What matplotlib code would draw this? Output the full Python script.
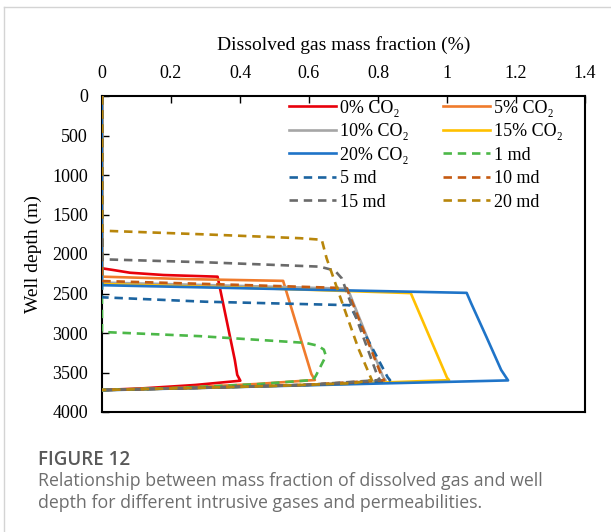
import matplotlib.pyplot as plt
from matplotlib.lines import Line2D

plt.rcParams['font.family'] = ['Liberation Serif', 'DejaVu Serif']

# series: dissolved gas mass fraction (%) vs well depth (m)
co2_0_x = [0, 0, 0.033, 0.081, 0.178, 0.335, 0.385, 0.392, 0.401, 0.27, 0.12, 0]
co2_0_d = [0, 2181, 2203, 2237, 2266, 2287, 3342, 3530, 3604, 3658, 3700, 3722]

co2_5_x = [0, 0, 0.25, 0.525, 0.607, 0.617, 0.45, 0.22, 0]
co2_5_d = [0, 2287, 2318, 2340, 3520, 3595, 3645, 3695, 3722]

co2_10_x = [0, 0, 0.35, 0.712, 0.815, 0.822, 0.6, 0.3, 0]
co2_10_d = [0, 2362, 2398, 2440, 3560, 3600, 3658, 3693, 3722]

co2_15_x = [0, 0, 0.45, 0.895, 1.0, 1.006, 0.7, 0.35, 0]
co2_15_d = [0, 2380, 2432, 2495, 3565, 3597, 3645, 3688, 3722]

co2_20_x = [0, 0, 0.5, 1.057, 1.07, 1.114, 1.157, 1.177, 0.8, 0.4, 0]
co2_20_d = [0, 2395, 2442, 2492, 2624, 3047, 3468, 3600, 3640, 3683, 3725]

md1_x = [0, 0, 0.284, 0.59, 0.625, 0.643, 0.649, 0.62, 0.612, 0.45, 0.22, 0]
md1_d = [0, 2987, 3040, 3125, 3160, 3210, 3290, 3540, 3595, 3648, 3695, 3722]

md5_x = [0, 0, 0.3, 0.718, 0.828, 0.835, 0.815, 0.6, 0.3, 0]
md5_d = [0, 2548, 2604, 2648, 3560, 3597, 3612, 3655, 3692, 3722]

md10_x = [0, 0, 0.35, 0.709, 0.812, 0.818, 0.6, 0.3, 0]
md10_d = [0, 2342, 2385, 2432, 3560, 3598, 3655, 3692, 3722]

md15_x = [0, 0, 0.3, 0.631, 0.675, 0.695, 0.8, 0.806, 0.6, 0.3, 0]
md15_d = [0, 2067, 2105, 2160, 2210, 2308, 3560, 3595, 3655, 3692, 3722]

md20_x = [0, 0, 0.3, 0.574, 0.637, 0.651, 0.69, 0.743, 0.782, 0.73, 0.5, 0.25, 0]
md20_d = [0, 1705, 1752, 1800, 1820, 2054, 2540, 3194, 3595, 3635, 3670, 3697, 3722]

labels = ["0% CO\u2082", "5% CO\u2082", "10% CO\u2082", "15% CO\u2082", "20% CO\u2082",
          "1 md", "5 md", "10 md", "15 md", "20 md"]
colors = ["#e8000b", "#f07b2c", "#a6a6a6", "#ffc000", "#1f74c8",
          "#4cb848", "#1c64a0", "#c55a11", "#6a6a6a", "#b8860b"]
xs = [co2_0_x, co2_5_x, co2_10_x, co2_15_x, co2_20_x, md1_x, md5_x, md10_x, md15_x, md20_x]
ds = [co2_0_d, co2_5_d, co2_10_d, co2_15_d, co2_20_d, md1_d, md5_d, md10_d, md15_d, md20_d]

fig = plt.figure(figsize=(6.11, 5.32), dpi=100)
ax = fig.add_axes([102 / 611, 1 - 412 / 532, 483 / 611, 316 / 532])

handles = []
for i in range(10):
    ls = "-" if i < 5 else "--"
    line, = ax.plot(xs[i], ds[i], color=colors[i], lw=1.9, ls=ls, zorder=3,
                    solid_joinstyle="round", label=labels[i])
    if i >= 5:
        line.set_dashes((3.2, 2.2))
    handles.append(line)

ax.set_xlim(0, 1.4)
ax.set_ylim(4000, 0)
ax.set_xticks([0, 0.2, 0.4, 0.6, 0.8, 1.0, 1.2, 1.4])
ax.set_xticklabels(["0", "0.2", "0.4", "0.6", "0.8", "1", "1.2", "1.4"])
ax.set_yticks(range(0, 4001, 500))
ax.xaxis.tick_top()
ax.tick_params(axis="both", direction="in", length=5, width=1, labelsize=13,
               pad=10, colors="black")
ax.tick_params(axis="x", top=True, bottom=False)
for s in ax.spines.values():
    s.set_linewidth(1.5)
    s.set_color("black")

ax.set_xlabel("Dissolved gas mass fraction (%)", fontsize=14)
ax.xaxis.set_label_position("top")
ax.xaxis.label.set_va("center")
ax.xaxis.set_label_coords(0.5, 1 + (96 - 45) / 316)
ax.set_ylabel("Well depth (m)", fontsize=14)
ax.yaxis.label.set_va("center")
ax.yaxis.set_label_coords((33 - 102) / 483, 0.5)

order = [0, 2, 4, 6, 8, 1, 3, 5, 7, 9]
ax.legend([handles[k] for k in order], [labels[k] for k in order], ncol=2,
          loc="upper left", bbox_to_anchor=((285 - 102) / 483, 1.0),
          frameon=False, fontsize=13, handlelength=2.6, handletextpad=0.25,
          columnspacing=1.9, labelspacing=0.36, borderpad=0.2, borderaxespad=0)

# card border
fig.add_artist(Line2D([4 / 611, 4 / 611], [0, 1 - 7 / 532], color="#d4d4d4", lw=1))
fig.add_artist(Line2D([4 / 611, 1], [1 - 7 / 532, 1 - 7 / 532], color="#d4d4d4", lw=1))

fig.text(38 / 611, 1 - 460 / 532, "FIGURE 12", fontsize=13.5, color="#595959",
         family="Open Sans", fontweight="semibold", va="center")
fig.text(38 / 611, 1 - 481 / 532,
         "Relationship between mass fraction of dissolved gas and well",
         fontsize=12.8, color="#6e6e6e", family="Open Sans", va="center")
fig.text(38 / 611, 1 - 503 / 532,
         "depth for different intrusive gases and permeabilities.",
         fontsize=12.8, color="#6e6e6e", family="Open Sans", va="center")

fig.savefig("out.png", dpi=100, facecolor="white")
